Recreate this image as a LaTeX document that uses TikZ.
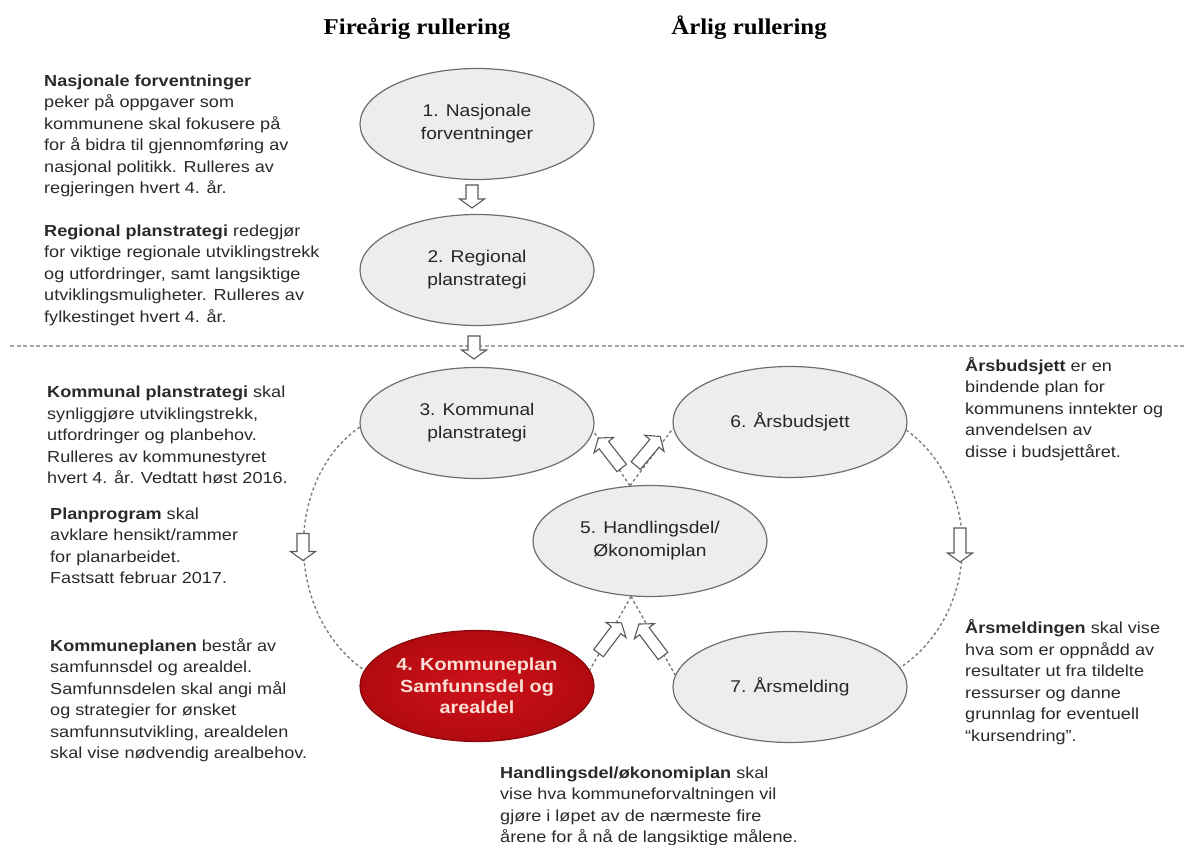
\documentclass[tikz,border=0pt]{standalone}
\usepackage{fontspec}
\setmainfont{Liberation Sans}[FakeStretch=1.13]
\newfontfamily\titlefont{Liberation Serif}[FakeStretch=1.1]
\usetikzlibrary{shapes.geometric}
\definecolor{txtcol}{HTML}{2A2A2A}
\definecolor{ellfill}{HTML}{EDEDED}
\definecolor{elldraw}{HTML}{6E6E6E}
\definecolor{dashcol}{HTML}{7F7F7F}
\definecolor{sepcol}{HTML}{A6A6A6}
\definecolor{redin}{RGB}{206,18,26}
\definecolor{redout}{RGB}{178,10,16}
\definecolor{redtxt}{RGB}{252,222,212}
\definecolor{arrdraw}{HTML}{5A5A5A}
\tikzset{
  txt/.style={font=\fontsize{16}{21.5}\selectfont, text=txtcol, align=left, inner sep=0pt, anchor=north west},
  ell/.style={ellipse, draw=elldraw, fill=ellfill, line width=1.2pt, minimum width=234pt, minimum height=111pt, inner sep=0pt, align=center, font=\fontsize{17}{23}\selectfont, text=black!85},
  redell/.style={ell, draw=redout!75!black, inner color=redin, outer color=redout, text=redtxt, font=\bfseries\fontsize{17.5}{21.5}\selectfont},
  ttl/.style={font=\titlefont\bfseries\fontsize{22.6}{26}\selectfont, anchor=base, inner sep=0pt},
  dashline/.style={draw=dashcol, line width=1.4pt, dash pattern=on 3pt off 2.5pt},
  sepline/.style={draw=sepcol, line width=1.2pt, dash pattern=on 4pt off 2.5pt},
  barrow/.style={draw=arrdraw, fill=white, line width=1.1pt, line join=miter}
}
\newcommand\blockarr[4]{%
  \begin{scope}[shift={(#1,#2)},rotate=#3,x=1pt,y=1pt]
    \draw[barrow] (-#4/2,-6) -- (#4/2-9,-6) -- (#4/2-9,-12.5) -- (#4/2,0)
      -- (#4/2-9,12.5) -- (#4/2-9,6) -- (-#4/2,6) -- cycle;
  \end{scope}}
\begin{document}
\begin{tikzpicture}[x=1pt,y=-1pt]
\useasboundingbox (0,0) rectangle (1184,845);

% titles
\node[ttl] (tt1) at (417,35) {Fireårig rullering};
\node[ttl] (tt2) at (749,35) {Årlig rullering};

% separator
\coordinate (sepL) at (10,346);
\coordinate (sepR) at (1184,346);
\draw[sepline] (sepL) -- (sepR);

% ellipse positions
\path
  (477,124) coordinate (p1)
  (477,270) coordinate (p2)
  (477,423) coordinate (p3)
  (477,686) coordinate (p4)
  (650,541) coordinate (p5)
  (790,422) coordinate (p6)
  (790,687) coordinate (p7);

\node[ell] (e1) at (p1) {1. Nasjonale\\forventninger};
\node[ell] (e2) at (p2) {2. Regional\\planstrategi};
\node[ell] (e3) at (p3) {3. Kommunal\\planstrategi};
\node[ell] (e5) at (p5) {5. Handlingsdel/\\Økonomiplan};
\node[ell] (e6) at (p6) {6. Årsbudsjett};
\node[ell] (e7) at (p7) {7. Årsmelding};
\node[redell] (e4) at (p4) {4. Kommuneplan\\Samfunnsdel og\\arealdel};

% dashed connectors
\draw[dashline] (e3.182) .. controls (284,480) and (284,614) .. (e4.172);
\draw[dashline] (e6.-4) .. controls (982,485) and (982,612) .. (e7.10);
\draw[dashline] (e5.110) -- (e3.-4);
\draw[dashline] (e5.110) -- (e6.183);
\draw[dashline] (e5.251) -- (e4.8);
\draw[dashline] (e5.251) -- (e7.174);

% block arrows
\blockarr{472}{196.5}{-90}{23}
\blockarr{474}{347.5}{-90}{23}
\blockarr{303}{547}{-90}{27}
\blockarr{960}{545}{-90}{34}
\blockarr{610}{453}{128}{38}
\blockarr{648}{451}{50}{38}
\blockarr{610}{638}{53}{38}
\blockarr{651}{640}{127}{40}

% text blocks
\node[txt] (t1) at (44,71.9) {\rule{0pt}{14pt}\textbf{Nasjonale forventninger}\\
peker på oppgaver som\\
kommunene skal fokusere på\\
for å bidra til gjennomføring av\\
nasjonal politikk. Rulleres av\\
regjeringen hvert 4. år.};

\node[txt] (t2) at (44,221.9) {\rule{0pt}{14pt}\textbf{Regional planstrategi} redegjør\\
for viktige regionale utviklingstrekk\\
og utfordringer, samt langsiktige\\
utviklingsmuligheter. Rulleres av\\
fylkestinget hvert 4. år.};

\node[txt] (t3) at (47,383.5) {\rule{0pt}{14pt}\textbf{Kommunal planstrategi} skal\\
synliggjøre utviklingstrekk,\\
utfordringer og planbehov.\\
Rulleres av kommunestyret\\
hvert 4. år. Vedtatt høst 2016.};

\node[txt] (t4) at (50,505.2) {\rule{0pt}{14pt}\textbf{Planprogram} skal\\
avklare hensikt/rammer\\
for planarbeidet.\\
Fastsatt februar 2017.};

\node[txt] (t5) at (50,636.9) {\rule{0pt}{14pt}\textbf{Kommuneplanen} består av\\
samfunnsdel og arealdel.\\
Samfunnsdelen skal angi mål\\
og strategier for ønsket\\
samfunnsutvikling, arealdelen\\
skal vise nødvendig arealbehov.};

\node[txt] (t6) at (965,356.9) {\rule{0pt}{14pt}\textbf{Årsbudsjett} er en\\
bindende plan for\\
kommunens inntekter og\\
anvendelsen av\\
disse i budsjettåret.};

\node[txt] (t7) at (965,619.5) {\rule{0pt}{14pt}\textbf{Årsmeldingen} skal vise\\
hva som er oppnådd av\\
resultater ut fra tildelte\\
ressurser og danne\\
grunnlag for eventuell\\
“kursendring”.};

\node[txt] (t8) at (500,764.2) {\rule{0pt}{14pt}\textbf{Handlingsdel/økonomiplan} skal\\
vise hva kommuneforvaltningen vil\\
gjøre i løpet av de nærmeste fire\\
årene for å nå de langsiktige målene.};
\end{tikzpicture}
\end{document}
